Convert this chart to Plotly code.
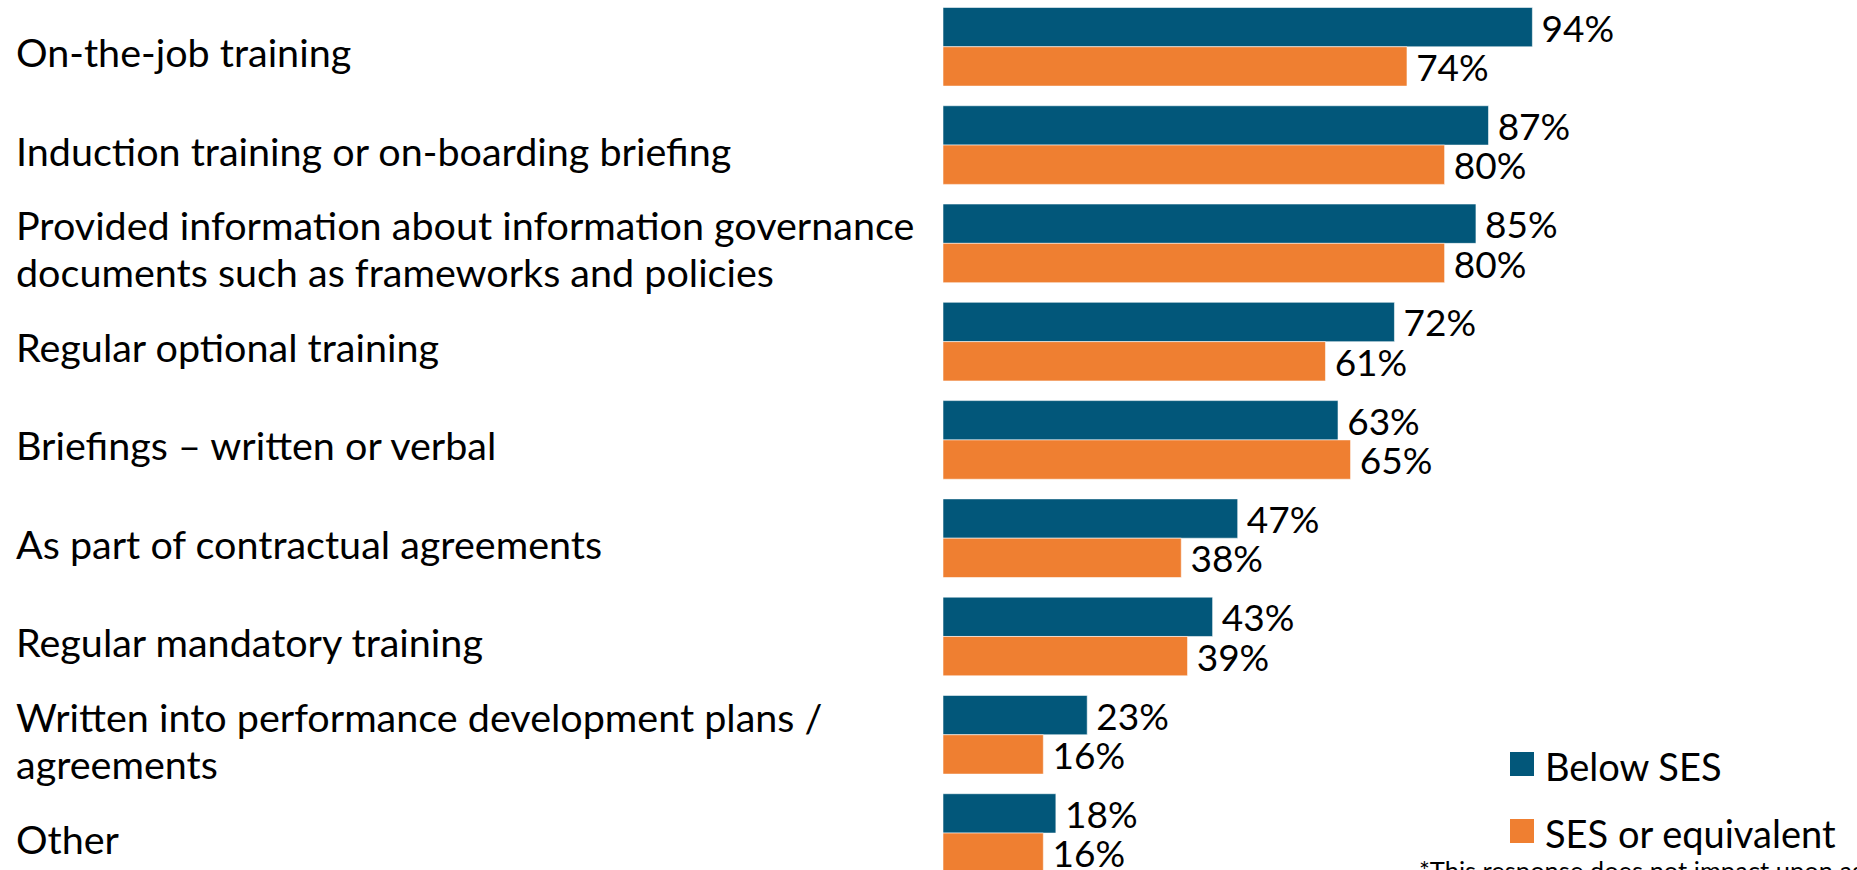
import plotly.graph_objects as go

# Survey categories (top to bottom) and percentage of respondents
categories = [
    ["On-the-job training"],
    ["Induction training or on-boarding briefing"],
    ["Provided information about information governance",
     "documents such as frameworks and policies"],
    ["Regular optional training"],
    ["Briefings \u2013 written or verbal"],
    ["As part of contractual agreements"],
    ["Regular mandatory training"],
    ["Written into performance development plans /", "agreements"],
    ["Other"],
]
below_ses = [94, 87, 85, 72, 63, 47, 43, 23, 18]
ses_equivalent = [74, 80, 80, 61, 65, 38, 39, 16, 16]

series_names = ["Below SES", "SES or equivalent"]
series_colors = ["#02577A", "#EF7F31"]

FONT = "Lato"
FS_VALUE = 37
FS_LABEL = 39.5
FS_LEGEND = 38
W, H = 1857, 870
LEFT = 943
LINE_PITCH = 47
positions = list(range(len(categories)))

fig = go.Figure()
for name, vals, col in zip(series_names, [below_ses, ses_equivalent], series_colors):
    fig.add_trace(go.Bar(
        name=name,
        y=positions,
        x=vals,
        orientation="h",
        marker=dict(color=col, line=dict(color="rgba(255,255,255,0.55)", width=1)),
        text=[f"\u2006{v}%" for v in vals],
        textposition="outside",
        textfont=dict(family=FONT, size=FS_VALUE, color="#000000"),
        constraintext="none",
        cliponaxis=False,
        showlegend=False,
    ))

annotations = []
# category labels, left aligned in the left margin, one annotation per line
for i, lines in enumerate(categories):
    n = len(lines)
    for k, line in enumerate(lines):
        offset = (k - (n - 1) / 2) * LINE_PITCH
        annotations.append(dict(
            xref="paper", yref="y", x=-(LEFT - 14) / (W - LEFT), y=i,
            text=line, showarrow=False, xanchor="left", yanchor="middle", align="left",
            yshift=-5 - offset, font=dict(family=FONT, size=FS_LABEL, color="#000000"),
        ))

# legend
shapes = []
leg_rows = [(752, 776), (819, 843)]
for (top, bot), name, col in zip(leg_rows, series_names, series_colors):
    shapes.append(dict(
        type="rect", xref="paper", yref="paper", line=dict(width=0), fillcolor=col,
        x0=(1510 - LEFT) / (W - LEFT), x1=(1534 - LEFT) / (W - LEFT),
        y0=1 - bot / H, y1=1 - top / H,
    ))
    annotations.append(dict(
        xref="paper", yref="paper", x=(1543 - LEFT) / (W - LEFT), y=1 - (top + bot) / 2 / H,
        text=name, showarrow=False, xanchor="left", yanchor="middle", yshift=-2,
        font=dict(family=FONT, size=FS_LEGEND, color="#000000"),
    ))

annotations.append(dict(
    xref="paper", yref="paper", x=(1417 - LEFT) / (W - LEFT), y=1 - 853 / H,
    text="*This response does not impact upon agency", showarrow=False,
    xanchor="left", yanchor="top", font=dict(family=FONT, size=25.5, color="#000000"),
))

px_per_pct = 6.27
fig.update_layout(
    width=W, height=H,
    margin=dict(l=LEFT, r=0, t=0, b=0),
    paper_bgcolor="white", plot_bgcolor="white",
    barmode="group", bargap=0.2, bargroupgap=0,
    xaxis=dict(range=[0, (W - LEFT) / px_per_pct], visible=False, fixedrange=True),
    yaxis=dict(range=[8.376, -0.476], visible=False, fixedrange=True),
    annotations=annotations,
    shapes=shapes,
    font=dict(family=FONT),
)

fig.write_html("out.html")
